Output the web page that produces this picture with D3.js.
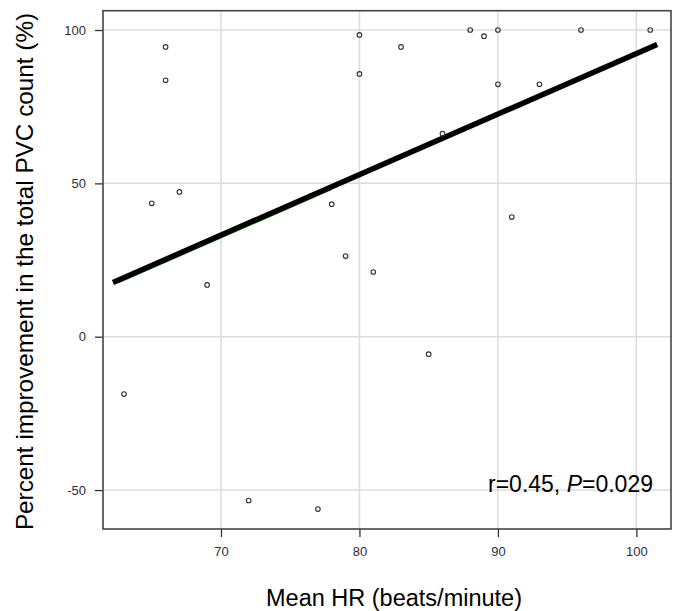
<!DOCTYPE html>
<html>
<head>
<meta charset="utf-8">
<script src="https://cdn.jsdelivr.net/npm/d3@7"></script>
<style>
  html, body { margin: 0; padding: 0; background: #fff; }
  svg { display: block; font-family: "Liberation Sans", Arial, sans-serif; }
</style>
</head>
<body>
<svg id="chart" width="676" height="611"></svg>
<script>
// ---- data ----
const meanHR = [66, 66, 80, 80, 83, 67, 88, 89, 90, 96, 101, 90, 93, 86, 65, 69, 78, 79, 81, 91, 85, 63, 72, 77];
const improvement = [94.5, 83.6, 98.4, 85.7, 94.5, 47.2, 100, 98, 100, 100, 100, 82.3, 82.3, 66.2, 43.5, 16.9, 43.2, 26.3, 21.1, 39, -5.7, -18.7, -53.4, -56.2];
const fitX = [62.2, 101.5];
const fitY = [17.7, 95.3];
const xTicks = [70, 80, 90, 100];
const yTicks = [-50, 0, 50, 100];
const xDomain = [61.48, 102.5];
const yDomain = [-62.7, 106.3];
const xTitle = "Mean HR (beats/minute)";
const yTitle = "Percent improvement in the total PVC count (%)";

// ---- layout ----
const L = 103, R = 671, T = 10.7, B = 529;
const svg = d3.select("#chart");
const x = d3.scaleLinear().domain(xDomain).range([L, R]);
const y = d3.scaleLinear().domain(yDomain).range([B, T]);

// gridlines
const grid = svg.append("g");
grid.selectAll("line.v").data(xTicks).join("line")
  .attr("x1", d => x(d)).attr("x2", d => x(d))
  .attr("y1", T).attr("y2", B)
  .attr("stroke", "#dcdcdc").attr("stroke-width", 1.5);
grid.selectAll("line.h").data(yTicks).join("line")
  .attr("x1", L).attr("x2", R)
  .attr("y1", d => y(d)).attr("y2", d => y(d))
  .attr("stroke", "#dcdcdc").attr("stroke-width", 1.5);

// axes
const fmt = d => String(d);
const xAxis = d3.axisBottom(x).tickValues(xTicks).tickSize(8).tickPadding(10).tickFormat(fmt);
const gx = svg.append("g").attr("transform", `translate(0,${B})`).call(xAxis);
gx.select(".domain").remove();
gx.selectAll(".tick line").attr("stroke", "#333").attr("stroke-width", 1.3);
gx.selectAll(".tick text").attr("fill", "#2e2e3a").attr("font-size", 13)
  .attr("font-family", "'Liberation Sans', Arial, sans-serif");

const yAxis = d3.axisLeft(y).tickValues(yTicks).tickSize(8).tickPadding(9).tickFormat(fmt);
const gy = svg.append("g").attr("transform", `translate(${L},0)`).call(yAxis);
gy.select(".domain").remove();
gy.selectAll(".tick line").attr("stroke", "#333").attr("stroke-width", 1.3);
gy.selectAll(".tick text").attr("fill", "#2e2e3a").attr("font-size", 13)
  .attr("font-family", "'Liberation Sans', Arial, sans-serif");

// frame
svg.append("rect").attr("x", L).attr("y", T).attr("width", R - L).attr("height", B - T)
  .attr("fill", "none").attr("stroke", "#444").attr("stroke-width", 1.6);

// faint green artefact under the fit line (left part)
const slope = (fitY[1] - fitY[0]) / (fitX[1] - fitX[0]);
const greenX = [fitX[0] + 0.4, 78];
const line = d3.line().x(d => x(d[0])).y(d => y(d[1]));
svg.append("path")
  .datum(greenX.map(d => [d, fitY[0] + (d - fitX[0]) * slope - 0.9]))
  .attr("d", line).attr("fill", "none").attr("stroke", "#3cc83c").attr("stroke-width", 1.2);

// regression line
const fitData = fitX.map((d, i) => [d, fitY[i]]);
svg.append("path").datum(fitData).attr("d", line)
  .attr("fill", "none").attr("stroke", "#000").attr("stroke-width", 5.5);

// points
svg.append("g").selectAll("circle").data(meanHR.map((d, i) => [d, improvement[i]])).join("circle")
  .attr("cx", d => x(d[0])).attr("cy", d => y(d[1])).attr("r", 2.3)
  .attr("fill", "none").attr("stroke", "#333").attr("stroke-width", 1.1);

// annotation
const ann = svg.append("text").attr("x", 653).attr("y", 492).attr("text-anchor", "end")
  .attr("font-size", 23).attr("fill", "#000");
ann.append("tspan").text("r=0.45, ");
ann.append("tspan").attr("font-style", "italic").text("P");
ann.append("tspan").text("=0.029");

// axis titles
svg.append("text").attr("x", 394).attr("y", 606).attr("text-anchor", "middle")
  .attr("font-size", 23.5).attr("fill", "#000").text(xTitle);
svg.append("text").attr("transform", `translate(33,${(18 + 525) / 2}) rotate(-90)`)
  .attr("text-anchor", "middle").attr("font-size", 24.3).attr("fill", "#000").text(yTitle);
</script>
</body>
</html>
